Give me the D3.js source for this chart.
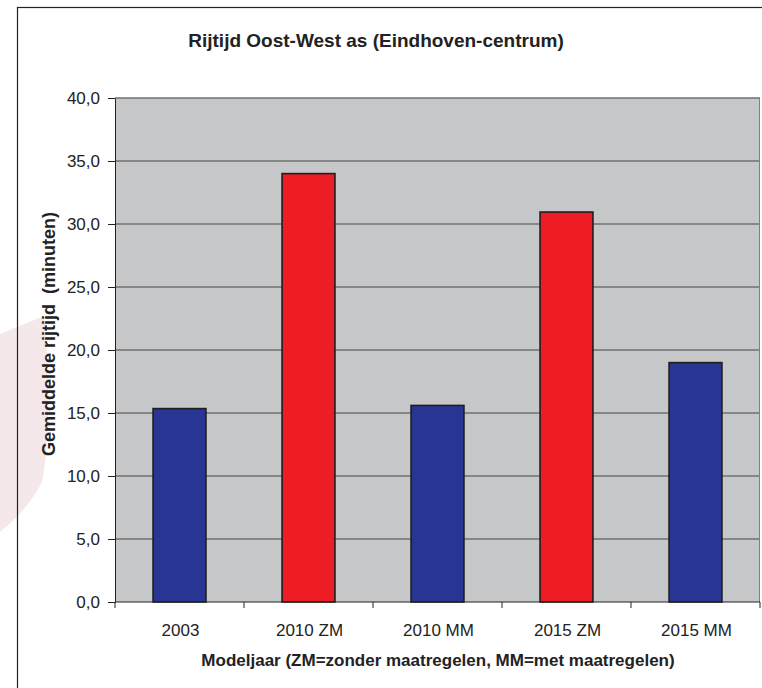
<!DOCTYPE html>
<html>
<head>
<meta charset="utf-8">
<script src="https://cdn.jsdelivr.net/npm/d3@7"></script>
<style>
  body { margin: 0; background: #fff; }
  svg { display: block; font-family: "Liberation Sans", Arial, sans-serif; }
</style>
</head>
<body>
<svg id="chart" width="762" height="688"></svg>
<script>
// data
const categories = ["2003", "2010 ZM", "2010 MM", "2015 ZM", "2015 MM"];
const values = [15.35, 34.0, 15.6, 30.95, 19.0];
const barKinds = ["MM", "ZM", "MM", "ZM", "MM"];
const yTicks = [0, 5, 10, 15, 20, 25, 30, 35, 40];

const svg = d3.select("#chart");

// plot area in page pixels
const plot = { left: 115, top: 98, right: 760, bottom: 602 };

// faint watermark shape at the left edge
svg.append("path")
  .attr("d", "M0,334 L44,316 C50,380 50,440 42,482 C30,505 15,520 0,532 Z")
  .attr("fill", "#f5e8eb");

// outer chart border (runs off the right and bottom of the picture)
svg.append("rect")
  .attr("x", 17.5).attr("y", 7.5)
  .attr("width", 800).attr("height", 720)
  .attr("fill", "none")
  .attr("stroke", "#222")
  .attr("stroke-width", 1.2);

const x = d3.scaleBand().domain(categories).range([plot.left, plot.right]).padding(0);
const xBar = d3.scaleBand().domain(categories).range([plot.left, plot.right])
  .paddingInner(0.59).paddingOuter(0.295);
const y = d3.scaleLinear().domain([0, 40]).range([plot.bottom, plot.top]);

const fmt = d => d.toFixed(1).replace(".", ",");
const colour = { MM: "#283593", ZM: "#ee1c25" };

// grey plot background
svg.append("rect")
  .attr("x", plot.left).attr("y", plot.top)
  .attr("width", plot.right - plot.left)
  .attr("height", plot.bottom - plot.top)
  .attr("fill", "#c6c7c9");

// gridlines
svg.append("g")
  .selectAll("line")
  .data(yTicks.filter(t => t > 0))
  .enter()
  .append("line")
  .attr("x1", plot.left).attr("x2", plot.right)
  .attr("y1", d => y(d)).attr("y2", d => y(d))
  .attr("stroke", "#717171")
  .attr("stroke-width", 1.6);

// right edge of plot
svg.append("line")
  .attr("x1", plot.right - 0.5).attr("x2", plot.right - 0.5)
  .attr("y1", plot.top).attr("y2", plot.bottom)
  .attr("stroke", "#808080");

// bars
svg.append("g")
  .selectAll("rect")
  .data(categories)
  .enter()
  .append("rect")
  .attr("x", d => xBar(d))
  .attr("width", xBar.bandwidth())
  .attr("y", (d, i) => y(values[i]))
  .attr("height", (d, i) => y(0) - y(values[i]))
  .attr("fill", (d, i) => colour[barKinds[i]])
  .attr("stroke", "#1e1e1e")
  .attr("stroke-width", 1.6);

// y axis
const yAxis = svg.append("g")
  .attr("transform", "translate(" + plot.left + ",0)")
  .call(d3.axisLeft(y).tickValues(yTicks).tickFormat(fmt).tickSize(7).tickPadding(8).tickSizeOuter(0));
yAxis.select(".domain").attr("stroke", "#222");
yAxis.selectAll(".tick line").attr("stroke", "#222");
yAxis.selectAll("text").attr("font-size", 17).attr("fill", "#222").attr("font-family", "Liberation Sans, Arial, sans-serif");

// x axis (ticks between categories)
const xAxisG = svg.append("g")
  .attr("transform", "translate(0," + plot.bottom + ")");
xAxisG.append("line")
  .attr("x1", plot.left).attr("x2", plot.right)
  .attr("stroke", "#222");
xAxisG.selectAll(".sep")
  .data(categories.concat(["end"]))
  .enter()
  .append("line")
  .attr("class", "sep")
  .attr("x1", (d, i) => i < categories.length ? x(d) : plot.right)
  .attr("x2", (d, i) => i < categories.length ? x(d) : plot.right)
  .attr("y1", 0).attr("y2", 6)
  .attr("stroke", "#222");
xAxisG.selectAll(".lbl")
  .data(categories)
  .enter()
  .append("text")
  .attr("class", "lbl")
  .attr("x", d => x(d) + x.bandwidth() / 2 + 1)
  .attr("y", 34)
  .attr("text-anchor", "middle")
  .attr("font-size", 17)
  .attr("fill", "#222")
  .text(d => d);

// titles
svg.append("text")
  .attr("x", 376).attr("y", 47)
  .attr("text-anchor", "middle")
  .attr("font-size", 19)
  .attr("font-weight", "bold")
  .attr("fill", "#222")
  .text("Rijtijd Oost-West as (Eindhoven-centrum)");

svg.append("text")
  .attr("x", 438).attr("y", 666)
  .attr("text-anchor", "middle")
  .attr("font-size", 17)
  .attr("font-weight", "bold")
  .attr("fill", "#222")
  .text("Modeljaar (ZM=zonder maatregelen, MM=met maatregelen)");

svg.append("text")
  .attr("transform", "translate(55,334) rotate(-90)")
  .attr("text-anchor", "middle")
  .attr("font-size", 18)
  .attr("font-weight", "bold")
  .attr("fill", "#222")
  .attr("xml:space", "preserve")
  .style("white-space", "pre")
  .text("Gemiddelde rijtijd  (minuten)");
</script>
</body>
</html>
